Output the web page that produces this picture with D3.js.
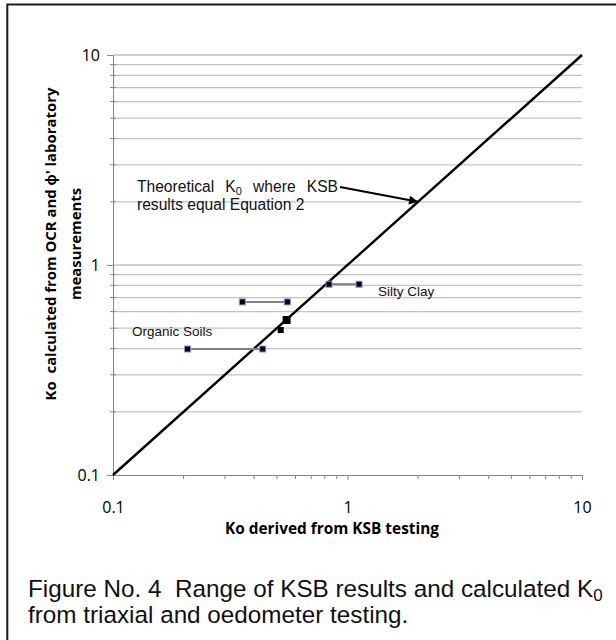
<!DOCTYPE html>
<html>
<head>
<meta charset="utf-8">
<script src="https://cdn.jsdelivr.net/npm/d3@7"></script>
<style>
  html, body { margin: 0; padding: 0; background: #fff; }
  svg { display: block; }
</style>
</head>
<body>
<main></main>
<script>
// Chart values
const tickValues = [0.1, 1, 10];
const tickLabels = ['0.1', '1', '10'];
const theoryLine = [0.1, 10];            // K0 = K0 line (x = y)
const rangeK0 = [0.81, 0.667, 0.398];    // calculated Ko of each range
const rangeLow = [0.834, 0.356, 0.208];  // lowest KSB Ko
const rangeHigh = [1.12, 0.554, 0.435];  // highest KSB Ko
const singleX = [0.55, 0.519];
const singleY = [0.547, 0.490];
const groupNames = ['Silty Clay', 'Organic Soils'];
const groupLabelAt = [[1.35, 0.712], [0.1205, 0.458]];
const arrowTarget = [2, 2];

const width = 616, height = 640;
const svg = d3.select('main').append('svg')
    .attr('width', width)
    .attr('height', height);

// fit a text element to a given pixel length by scaling its font size
function fitText(sel, target) {
    const w = sel.node().getComputedTextLength();
    const fs = parseFloat(sel.attr('font-size'));
    sel.attr('font-size', fs * target / w);
}

// outer frame (runs off the right and bottom edges)
svg.append('rect')
    .attr('x', 7.3).attr('y', 4.5)
    .attr('width', 700).attr('height', 700)
    .attr('fill', 'none')
    .attr('stroke', '#1a1a1a')
    .attr('stroke-width', 2);

const x = d3.scaleLog().domain([0.1, 10]).range([113, 582]);
const y = d3.scaleLog().domain([0.1, 10]).range([475, 55]);

const allTicks = y.ticks();
const minorTicks = allTicks.filter(v => !tickValues.some(t => Math.abs(t - v) < 1e-9));

// horizontal gridlines at every log step
svg.append('g')
    .selectAll('line')
    .data(allTicks.filter(v => v > 0.1 + 1e-9))
    .enter().append('line')
    .attr('x1', x(0.1)).attr('x2', x(10))
    .attr('y1', d => y(d)).attr('y2', d => y(d))
    .attr('stroke', '#c3c3c3')
    .attr('stroke-width', 1.3);

// y axis
const yAxis = svg.append('g')
    .attr('transform', `translate(${x(0.1)},0)`)
    .call(d3.axisLeft(y).tickValues(tickValues)
        .tickFormat((d, i) => tickLabels[i])
        .tickSize(6).tickSizeOuter(0).tickPadding(7));
yAxis.selectAll('text')
    .attr('font-family', '"Open Sans", sans-serif')
    .attr('font-size', 16)
    .attr('fill', '#000');

svg.append('g')
    .selectAll('line')
    .data(minorTicks)
    .enter().append('line')
    .attr('x1', x(0.1) - 3).attr('x2', x(0.1) + 3)
    .attr('y1', d => y(d)).attr('y2', d => y(d))
    .attr('stroke', '#868686');

// x axis
const xAxis = svg.append('g')
    .attr('transform', `translate(0,${y(0.1)})`)
    .call(d3.axisBottom(x).tickValues(tickValues)
        .tickFormat((d, i) => tickLabels[i])
        .tickSize(5).tickSizeOuter(0));
xAxis.selectAll('text')
    .attr('font-family', '"Open Sans", sans-serif')
    .attr('font-size', 16)
    .attr('fill', '#000')
    .attr('dy', null)
    .attr('y', 32)
    .attr('dominant-baseline', 'central');

svg.append('g')
    .selectAll('line')
    .data(minorTicks)
    .enter().append('line')
    .attr('x1', d => x(d)).attr('x2', d => x(d))
    .attr('y1', y(0.1)).attr('y2', y(0.1) + 4)
    .attr('stroke', '#868686');

[yAxis, xAxis].forEach(ax => {
    ax.selectAll('.domain, .tick line').attr('stroke', '#868686');
});

// theoretical line
const lineGen = d3.line().x(d => x(d)).y(d => y(d));
svg.append('path')
    .datum(theoryLine)
    .attr('fill', 'none')
    .attr('stroke', '#000')
    .attr('stroke-width', 2.4)
    .attr('d', lineGen);

// KSB ranges
svg.append('g')
    .selectAll('line')
    .data(rangeK0)
    .enter().append('line')
    .attr('x1', (d, i) => x(rangeLow[i]))
    .attr('x2', (d, i) => x(rangeHigh[i]))
    .attr('y1', d => y(d)).attr('y2', d => y(d))
    .attr('stroke', '#7f7f7f')
    .attr('stroke-width', 2);

const ends = [];
rangeK0.forEach((k, i) => {
    ends.push({ x: rangeLow[i], y: k });
    ends.push({ x: rangeHigh[i], y: k });
});
svg.append('g')
    .selectAll('rect')
    .data(ends)
    .enter().append('rect')
    .attr('x', d => x(d.x) - 3).attr('y', d => y(d.y) - 3)
    .attr('width', 6).attr('height', 6)
    .attr('fill', '#000')
    .attr('stroke', '#8c8cf0')
    .attr('stroke-width', 1);

// single results
const singleSize = [8, 6];
svg.append('g')
    .selectAll('rect')
    .data(singleX)
    .enter().append('rect')
    .attr('x', (d, i) => x(d) - singleSize[i] / 2)
    .attr('y', (d, i) => y(singleY[i]) - singleSize[i] / 2)
    .attr('width', (d, i) => singleSize[i])
    .attr('height', (d, i) => singleSize[i])
    .attr('fill', '#000');

// group labels
svg.append('g')
    .selectAll('text')
    .data(groupNames)
    .enter().append('text')
    .attr('x', (d, i) => x(groupLabelAt[i][0]))
    .attr('y', (d, i) => y(groupLabelAt[i][1]))
    .attr('font-family', '"Liberation Sans", Arial, sans-serif')
    .attr('font-size', 13.5)
    .attr('fill', '#111')
    .text(d => d);

// annotation with arrow (first line justified between 137 and 338)
const ann = svg.append('g')
    .attr('font-family', '"Liberation Sans", Arial, sans-serif')
    .attr('font-size', 15.6)
    .attr('fill', '#111');
const words = ['Theoretical', 'K', 'where', 'KSB'];
const wordNodes = words.map(w => {
    const t = ann.append('text').attr('y', 192).text(w);
    if (w === 'K') {
        t.append('tspan').attr('font-size', '70%').attr('dy', 3).text('0');
    }
    return t;
});
const wordW = wordNodes.map(t => t.node().getComputedTextLength());
const gap = (338 - 137 - d3.sum(wordW)) / (words.length - 1);
let cursor = 137;
wordNodes.forEach((t, i) => {
    t.attr('x', cursor);
    cursor += wordW[i] + gap;
});
ann.append('text')
    .attr('x', 137).attr('y', 210)
    .text('results equal Equation 2');

svg.append('defs').append('marker')
    .attr('id', 'arrow')
    .attr('viewBox', '0 0 10 10')
    .attr('refX', 10).attr('refY', 5)
    .attr('markerWidth', 5.5).attr('markerHeight', 4.5)
    .attr('markerUnits', 'strokeWidth')
    .attr('orient', 'auto')
    .append('path')
    .attr('d', 'M0,0 L10,5 L0,10 Z')
    .attr('fill', '#000');

svg.append('line')
    .attr('x1', 340).attr('y1', 187)
    .attr('x2', x(arrowTarget[0])).attr('y2', y(arrowTarget[1]))
    .attr('stroke', '#000')
    .attr('stroke-width', 2)
    .attr('marker-end', 'url(#arrow)');

// axis titles
const xTitle = svg.append('text')
    .attr('x', 332).attr('y', 534)
    .attr('text-anchor', 'middle')
    .attr('font-family', '"Open Sans", sans-serif')
    .attr('font-weight', 'bold')
    .attr('font-size', 13)
    .text('Ko derived from KSB testing');
fitText(xTitle, 214);

const yTitle = svg.append('g')
    .attr('transform', 'translate(50,244) rotate(-90)')
    .attr('font-family', '"Open Sans", sans-serif')
    .attr('font-weight', 'bold')
    .attr('text-anchor', 'middle');
const yt1 = yTitle.append('text')
    .attr('x', 0).attr('y', 0)
    .attr('dominant-baseline', 'central')
    .attr('font-size', 13)
    .attr('xml:space', 'preserve')
    .text("Ko  calculated from OCR and \u03D5' laboratory");
fitText(yt1, 313);
yTitle.append('text')
    .attr('x', 0).attr('y', 25)
    .attr('dominant-baseline', 'central')
    .attr('font-size', yt1.attr('font-size'))
    .text('measurements');

// caption
const cap = svg.append('g')
    .attr('font-family', '"Liberation Sans", Arial, sans-serif')
    .attr('fill', '#111');
const cap1 = cap.append('text')
    .attr('x', 28).attr('y', 597)
    .attr('font-size', 20)
    .attr('xml:space', 'preserve')
    .text('Figure No. 4  Range of KSB results and calculated K');
cap1.append('tspan').attr('font-size', '70%').attr('dy', 4).text('0');
fitText(cap1, 575);
cap.append('text')
    .attr('x', 28).attr('y', 623)
    .attr('font-size', cap1.attr('font-size'))
    .text('from triaxial and oedometer testing.');
</script>
</body>
</html>
